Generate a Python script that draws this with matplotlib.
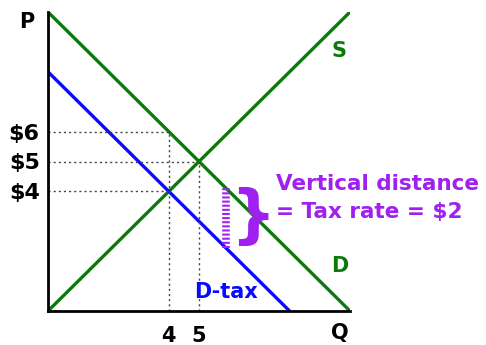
import numpy as np
import matplotlib.pyplot as plt

# supply, demand and demand after the tax (P as a function of Q)
q_max = 10
supply_int, supply_slope = 0, 1
demand_int, demand_slope = 10, -1
tax = 2
tax_demand_int = demand_int - tax
eq_q, eq_p = 5, 5
tax_q, tax_p = 4, 4
tax_price_buyers = 6
price_ticks = [4, 5, 6]
price_labels = ['$4', '$5', '$6']
qty_ticks = [4, 5]
qty_labels = ['4', '5']
gap_q = 5.9

green = '#0a7a0a'
blue = '#0a0aff'
purple = '#a020f0'

fig = plt.figure(figsize=(4.86, 3.45), dpi=100)
ax = fig.add_axes([48 / 486, 34 / 345, 302 / 486, 299 / 345])

q = np.array([0, q_max])
ax.plot(q, supply_int + supply_slope * q, color=green, lw=2.4, solid_capstyle='round')
ax.plot(q, demand_int + demand_slope * q, color=green, lw=2.4, solid_capstyle='round')
qt = np.array([0, tax_demand_int])
ax.plot(qt, tax_demand_int + demand_slope * qt, color=blue, lw=2.4, solid_capstyle='round')

# dotted guide lines
dot = dict(color='#444444', lw=1, ls=(0, (1.5, 2.2)))
ax.plot([0, tax_q], [tax_price_buyers, tax_price_buyers], **dot)
ax.plot([0, eq_q], [eq_p, eq_p], **dot)
ax.plot([0, tax_q], [tax_p, tax_p], **dot)
ax.plot([tax_q, tax_q], [0, tax_price_buyers], **dot)
ax.plot([eq_q, eq_q], [0, eq_p], **dot)

# vertical gap between the two demand curves
top = demand_int + demand_slope * gap_q
bottom = tax_demand_int + demand_slope * gap_q
ax.plot([gap_q, gap_q], [bottom, top], color=purple, lw=5.5, ls=(0, (0.27, 0.27)))
ax.text(gap_q + 0.12, (top + bottom) / 2, '}', color=purple, fontsize=46,
        fontweight='bold', ha='left', va='center')
ax.text(7.55, 3.77, 'Vertical distance\n= Tax rate = $2', color=purple,
        fontsize=15.5, fontweight='bold', ha='left', va='center',
        linespacing=1.5, clip_on=False)

# curve labels
ax.text(9.65, 8.7, 'S', color=green, fontsize=15, fontweight='bold', ha='center', va='center')
ax.text(9.65, 1.5, 'D', color=green, fontsize=15, fontweight='bold', ha='center', va='center')
ax.text(5.9, 0.63, 'D-tax', color=blue, fontsize=15, fontweight='bold', ha='center', va='center')

# axis labels
ax.text(-0.7, 9.65, 'P', fontsize=15, fontweight='bold', ha='center', va='center', clip_on=False)
ax.text(9.65, -0.75, 'Q', fontsize=15, fontweight='bold', ha='center', va='center', clip_on=False)

ax.set_xlim(0, q_max)
ax.set_ylim(0, q_max)
ax.set_yticks(price_ticks)
ax.set_yticklabels(price_labels, fontsize=16, fontweight='bold')
ax.set_xticks(qty_ticks)
ax.set_xticklabels(qty_labels, fontsize=15, fontweight='bold')
ax.tick_params(axis='y', length=0, pad=6)
ax.tick_params(axis='x', length=0, pad=11)
ax.spines['top'].set_visible(False)
ax.spines['right'].set_visible(False)
ax.spines['left'].set_linewidth(2)
ax.spines['bottom'].set_linewidth(2)

fig.savefig('out.png', dpi=100)
